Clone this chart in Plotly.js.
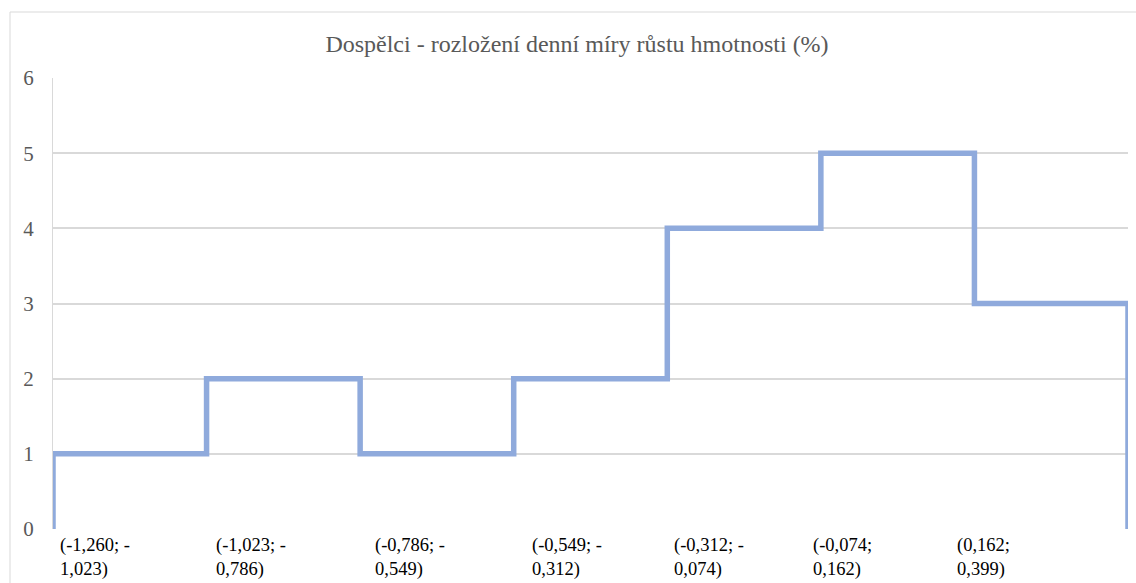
<!DOCTYPE html>
<html>
<head>
<meta charset="utf-8">
<script src="https://cdn.plot.ly/plotly-3.0.1.min.js"></script>
<style>html,body{margin:0;padding:0;background:#fff;}#chart{width:1136px;height:583px;}</style>
</head>
<body>
<div id="chart"></div>
<script>
// Data
const binLabels = [
  "(-1,260; -<br>1,023)",
  "(-1,023; -<br>0,786)",
  "(-0,786; -<br>0,549)",
  "(-0,549; -<br>0,312)",
  "(-0,312; -<br>0,074)",
  "(-0,074;<br>0,162)",
  "(0,162;<br>0,399)"
];
const counts = [1, 2, 1, 2, 4, 5, 3];
const titleText = "Dospělci - rozložení denní míry růstu hmotnosti (%)";

// Layout-only pixel nudges for the category labels (as placed in the original)
const labelNudge = [5, 7, 13, 16, 5, -10, -19];

// Build step outline from counts (bin index edges)
const xs = [0];
const ys = [0];
counts.forEach((c, i) => { xs.push(i); ys.push(c); });
xs.push(counts.length); ys.push(counts[counts.length - 1]);
xs.push(counts.length); ys.push(0);

const SERIF = "'Liberation Serif', 'Times New Roman', serif";

const trace = {
  x: xs, y: ys, type: 'scatter', mode: 'lines',
  line: {shape: 'hv', color: '#8faadc', width: 5.5},
  hoverinfo: 'skip', showlegend: false
};

const W = 1136, H = 583;
const mL = 53, mR = 8, mT = 78, mB = 54;
const plotW = W - mL - mR;

const annotations = binLabels.map((t, i) => ({
  text: t, x: i, xref: 'x', y: 0, yref: 'paper',
  xanchor: 'left', yanchor: 'top', align: 'left',
  xshift: labelNudge[i], yshift: -4, showarrow: false,
  font: {family: SERIF, size: 18.5, color: '#000'}
}));

const layout = {
  width: W, height: H,
  margin: {l: mL, r: mR, t: mT, b: mB},
  paper_bgcolor: '#fff', plot_bgcolor: '#fff',
  font: {family: SERIF},
  title: {
    text: titleText, x: (577 - mL) / plotW, xref: 'paper', xanchor: 'center',
    y: 1 - 44 / H, yanchor: 'middle',
    font: {family: SERIF, size: 24, color: '#595959'}
  },
  xaxis: {
    range: [0, counts.length], showticklabels: false, showgrid: false,
    zeroline: false, showline: false, ticks: '', fixedrange: true
  },
  yaxis: {
    range: [0, 6], dtick: 1, tick0: 0, showgrid: true, gridcolor: '#d9d9d9', gridwidth: 2,
    zeroline: false, showline: true, linecolor: '#d9d9d9', linewidth: 1,
    ticks: 'outside', ticklen: 14, tickcolor: 'rgba(0,0,0,0)',
    tickfont: {family: SERIF, size: 21, color: '#595959'},
    fixedrange: true
  },
  shapes: [{
    type: 'rect', xref: 'paper', yref: 'paper',
    x0: (10 - mL) / plotW, x1: (1140 - mL) / plotW,
    y0: -(H - mT - mB + 10) / (H - mT - mB) , y1: (H - mB - 12) / (H - mT - mB),
    line: {color: '#d9d9d9', width: 1}, fillcolor: 'rgba(0,0,0,0)', layer: 'below'
  }],
  annotations: annotations
};

Plotly.newPlot('chart', [trace], layout, {displayModeBar: false, staticPlot: true});
</script>
</body>
</html>
